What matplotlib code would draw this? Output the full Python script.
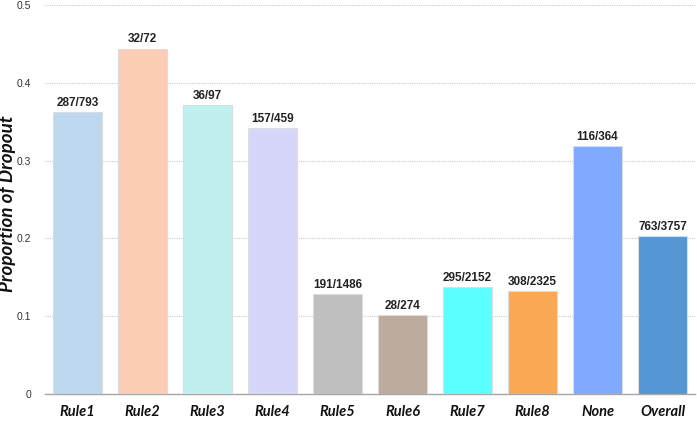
import matplotlib
matplotlib.use('Agg')
import matplotlib.pyplot as plt

# Chart data
categories = ['Rule1', 'Rule2', 'Rule3', 'Rule4', 'Rule5', 'Rule6', 'Rule7', 'Rule8', 'None', 'Overall']
proportions = [0.362, 0.444, 0.371, 0.342, 0.1285, 0.102, 0.137, 0.1325, 0.319, 0.203]
bar_labels = ['287/793', '32/72', '36/97', '157/459', '191/1486', '28/274',
              '295/2152', '308/2325', '116/364', '763/3757']
bar_colors = ['#BDD7EE', '#FBCDB4', '#BFEFEF', '#D6D6FA', '#BFBFBF', '#BEABA0',
              '#5CFFFF', '#FBA855', '#7FAAFF', '#5597D5']
y_ticks = [0, 0.1, 0.2, 0.3, 0.4, 0.5]
y_tick_labels = ['0', '0.1', '0.2', '0.3', '0.4', '0.5']

fig = plt.figure(figsize=(6.97, 4.23), dpi=100)
ax = fig.add_axes([0.0646, 0.0686, 0.9326, 0.9196])

x = range(len(categories))
bars = ax.bar(x, proportions, width=0.754, color=bar_colors,
              edgecolor='#DDDDDD', linewidth=0.8, zorder=3)

# counts above each bar
for rect, lab in zip(bars, bar_labels):
    ax.text(rect.get_x() + rect.get_width() / 2, rect.get_height() + 0.004, lab,
            ha='center', va='bottom', fontsize=8.5, fontweight='bold',
            family='Liberation Sans', color='#222222')

ax.set_xlim(-0.5, len(categories) - 0.5)
ax.set_ylim(0, 0.5)
ax.set_yticks(y_ticks)
ax.set_yticklabels(y_tick_labels, family='Liberation Sans', fontsize=7.5, color='#333333')
ax.set_xticks(list(x))
ax.set_xticklabels(categories, family='Lato', fontsize=10.5, fontweight='bold',
                   style='italic', color='#111111')

ax.tick_params(axis='y', length=0, pad=10)
ax.tick_params(axis='x', length=0, pad=8)

# dotted horizontal grid
ax.yaxis.grid(True, linestyle=(0, (1, 1)), color='#CCCCCC', linewidth=0.8, zorder=0)
ax.set_axisbelow(True)

for side in ['left', 'right', 'top']:
    ax.spines[side].set_visible(False)
ax.spines['bottom'].set_color('#A6A6A6')
ax.spines['bottom'].set_linewidth(1.0)

ax.set_ylabel('Proportion of Dropout', family='Lato', fontsize=13.5,
              fontweight='bold', style='italic', color='#111111', va='center')
ax.yaxis.set_label_coords(-0.058, 0.49)

fig.savefig('out.png', dpi=100)
